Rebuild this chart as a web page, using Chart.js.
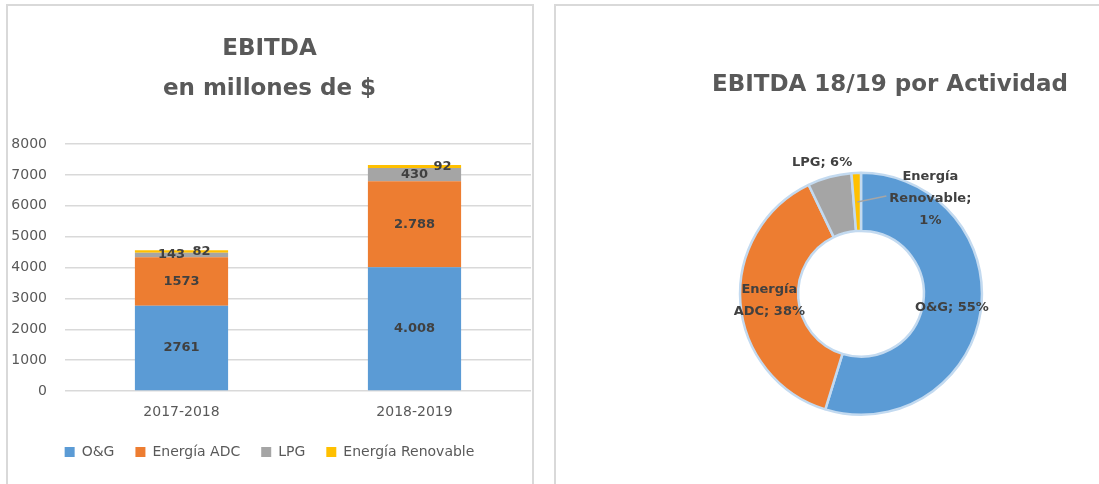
<!DOCTYPE html>
<html>
<head>
<meta charset="utf-8">
<title>EBITDA</title>
<script src="https://cdn.jsdelivr.net/npm/chart.js@4.4.1/dist/chart.umd.min.js"></script>
<style>
  html, body { margin: 0; padding: 0; background: #fff; overflow: hidden; }
  .panel { position: absolute; border: 2px solid #d9d9d9; }
  #panelBarras { left: 6px; top: 4px; width: 524px; height: 490px; }
  #panelDona { left: 554px; top: 4px; width: 600px; height: 490px; }
  .panel canvas { position: absolute; left: 0; top: 0; }
</style>
</head>
<body>
<div class="panel" id="panelBarras"><canvas id="barras" width="524" height="478"></canvas></div>
<div class="panel" id="panelDona"><canvas id="dona" width="543" height="478"></canvas></div>
<script>
'use strict';
/*------------------------------------*\
     Datos
\*------------------------------------*/
var periodos = ['2017-2018', '2018-2019'];
var actividades = ['O&G', 'Energía ADC', 'LPG', 'Energía Renovable'];
var valoresOG = [2761, 4008];
var valoresADC = [1573, 2788];
var valoresLPG = [143, 430];
var valoresRenovable = [82, 92];
var separadorMiles = [false, true]; // el periodo 18/19 viene con punto de miles
var colores = ['#5B9BD5', '#ED7D31', '#A5A5A5', '#FFC000'];

var gris = '#595959';
var grisOscuro = '#404040';
Chart.defaults.font.family = '"DejaVu Sans", sans-serif';
Chart.defaults.color = gris;

function formato(v, i) {
  var s = String(v);
  if (separadorMiles[i] && v >= 1000) {
    s = s.slice(0, -3) + '.' + s.slice(-3);
  }
  return s;
}

/*------------------------------------*\
     Etiquetas dentro de las barras
\*------------------------------------*/
// desplazamiento horizontal de las etiquetas pequeñas (LPG / renovable)
var desplazamientoBarras = [[0, 0], [0, 0], [-10, 0], [20, 28]];

var etiquetasBarras = {
  id: 'etiquetasBarras',
  afterDatasetsDraw: function(chart) {
    var ctx = chart.ctx;
    ctx.save();
    ctx.font = 'bold 13px "DejaVu Sans", sans-serif';
    ctx.fillStyle = grisOscuro;
    ctx.textAlign = 'center';
    ctx.textBaseline = 'middle';
    chart.data.datasets.forEach(function(ds, d) {
      chart.getDatasetMeta(d).data.forEach(function(bar, i) {
        var p = bar.getProps(['x', 'y', 'base'], true);
        ctx.fillText(formato(ds.data[i], i), p.x + desplazamientoBarras[d][i], (p.y + p.base) / 2);
      });
    });
    ctx.restore();
  }
};

new Chart(document.getElementById('barras').getContext('2d'), {
  type: 'bar',
  data: {
    labels: periodos,
    datasets: [
      { label: actividades[0], data: valoresOG, backgroundColor: colores[0] },
      { label: actividades[1], data: valoresADC, backgroundColor: colores[1] },
      { label: actividades[2], data: valoresLPG, backgroundColor: colores[2] },
      { label: actividades[3], data: valoresRenovable, backgroundColor: colores[3] }
    ]
  },
  options: {
    responsive: false,
    animation: false,
    barPercentage: 0.4,
    categoryPercentage: 1,
    layout: { padding: { left: 0, right: 1, top: 0, bottom: 15 } },
    plugins: {
      title: {
        display: true,
        text: ['EBITDA', 'en millones de $'],
        color: gris,
        font: { size: 23, weight: 'bold', lineHeight: 1.74 },
        padding: { top: 23, bottom: 35 }
      },
      legend: {
        position: 'bottom',
        labels: { boxWidth: 10, boxHeight: 10, padding: 21, color: gris, font: { size: 14 } }
      },
      tooltip: { enabled: false }
    },
    scales: {
      x: {
        stacked: true,
        grid: { display: false },
        border: { display: false },
        ticks: { color: gris, font: { size: 14 }, padding: 5 },
        afterFit: function(scale) { scale.height = 33; }
      },
      y: {
        stacked: true,
        min: 0,
        max: 8000,
        ticks: {
          stepSize: 1000,
          color: gris,
          font: { size: 14 },
          padding: 18,
          callback: function(v) { return String(v); }
        },
        grid: { color: '#d9d9d9', lineWidth: 1.5, drawTicks: false },
        border: { display: false },
        afterFit: function(scale) { scale.width = 57; }
      }
    }
  },
  plugins: [etiquetasBarras]
});

/*------------------------------------*\
     Dona 18/19
\*------------------------------------*/
var valoresDona = [valoresOG[1], valoresADC[1], valoresLPG[1], valoresRenovable[1]];
// LPG y renovable se sacaron del anillo a mano
var desplazamientoDona = [[0, 0], [0, 0], [-15, -42], [73, -3]];
var lineaGuia = [false, false, false, true];

function partirTexto(ctx, texto, ancho) {
  var palabras = texto.split(' ');
  var lineas = [];
  var actual = '';
  palabras.forEach(function(p) {
    var prueba = actual ? actual + ' ' + p : p;
    if (actual && ctx.measureText(prueba).width > ancho) {
      lineas.push(actual);
      actual = p;
    } else {
      actual = prueba;
    }
  });
  lineas.push(actual);
  return lineas;
}

var etiquetasDona = {
  id: 'etiquetasDona',
  afterDatasetsDraw: function(chart) {
    var ctx = chart.ctx;
    var datos = chart.data.datasets[0].data;
    var total = datos.reduce(function(a, b) { return a + b; }, 0);
    ctx.save();
    ctx.font = 'bold 13px "DejaVu Sans", sans-serif';
    ctx.textAlign = 'center';
    ctx.textBaseline = 'middle';
    chart.getDatasetMeta(0).data.forEach(function(arc, i) {
      var p = arc.getProps(['x', 'y', 'startAngle', 'endAngle', 'innerRadius', 'outerRadius'], true);
      var medio = (p.startAngle + p.endAngle) / 2;
      var r = (p.innerRadius + p.outerRadius) / 2;
      var ax = p.x + Math.cos(medio) * r;
      var ay = p.y + Math.sin(medio) * r;
      var lx = ax + desplazamientoDona[i][0];
      var ly = ay + desplazamientoDona[i][1];
      var texto = chart.data.labels[i] + '; ' + Math.round(datos[i] / total * 100) + '%';
      var lineas = partirTexto(ctx, texto, 80);
      if (lineaGuia[i]) {
        var ancho = ctx.measureText(lineas[Math.floor(lineas.length / 2)]).width;
        ctx.strokeStyle = '#a6a6a6';
        ctx.lineWidth = 1.5;
        ctx.beginPath();
        ctx.moveTo(ax, ay);
        ctx.lineTo(lx - ancho / 2 - 3, ly - 3);
        ctx.stroke();
      }
      ctx.fillStyle = grisOscuro;
      lineas.forEach(function(l, k) {
        ctx.fillText(l, lx, ly + (k - (lineas.length - 1) / 2) * 22);
      });
    });
    ctx.restore();
  }
};

new Chart(document.getElementById('dona').getContext('2d'), {
  type: 'doughnut',
  data: {
    labels: actividades,
    datasets: [{
      data: valoresDona,
      backgroundColor: colores,
      borderColor: '#c3daf0',
      borderWidth: 2.5
    }]
  },
  options: {
    responsive: false,
    animation: false,
    cutout: '52%',
    layout: { padding: { left: 98, right: 31, top: 0, bottom: 68 } },
    plugins: {
      title: {
        display: true,
        text: 'EBITDA 18/19 por Actividad',
        align: 'end',
        color: gris,
        font: { size: 23, weight: 'bold' },
        padding: { top: 65, bottom: 73 }
      },
      legend: { display: false },
      tooltip: { enabled: false }
    }
  },
  plugins: [etiquetasDona]
});
</script>
</body>
</html>
